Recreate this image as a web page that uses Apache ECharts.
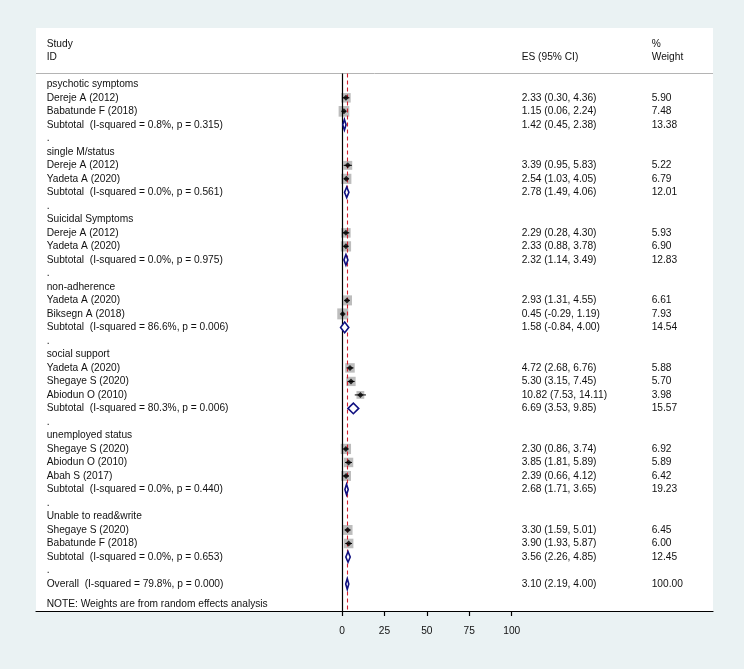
<!DOCTYPE html>
<html>
<head>
<meta charset="utf-8">
<script src="https://cdn.jsdelivr.net/npm/echarts@6/dist/echarts.min.js"></script>
<style>
html,body{margin:0;padding:0;background:#eaf2f3;}
#chart{width:744px;height:669px;}
</style>
</head>
<body>
<div id="chart"></div>
<script>
// ---------- data ----------
const xTicks = [0, 25, 50, 75, 100];

const groupNames = ["psychotic symptoms", "single M/status", "Suicidal Symptoms", "non-adherence",
  "social support", "unemployed status", "Unable to read&write"];

const studyNames = ["Dereje A (2012)", "Babatunde F (2018)",
  "Dereje A (2012)", "Yadeta A (2020)",
  "Dereje A (2012)", "Yadeta A (2020)",
  "Yadeta A (2020)", "Biksegn A (2018)",
  "Yadeta A (2020)", "Shegaye S (2020)", "Abiodun O (2010)",
  "Shegaye S (2020)", "Abiodun O (2010)", "Abah S (2017)",
  "Shegaye S (2020)", "Babatunde F (2018)"];
const studyGroup = [0, 0, 1, 1, 2, 2, 3, 3, 4, 4, 4, 5, 5, 5, 6, 6];
const studyES = [2.33, 1.15, 3.39, 2.54, 2.29, 2.33, 2.93, 0.45, 4.72, 5.30, 10.82, 2.30, 3.85, 2.39, 3.30, 3.90];
const studyLo = [0.30, 0.06, 0.95, 1.03, 0.28, 0.88, 1.31, -0.29, 2.68, 3.15, 7.53, 0.86, 1.81, 0.66, 1.59, 1.93];
const studyHi = [4.36, 2.24, 5.83, 4.05, 4.30, 3.78, 4.55, 1.19, 6.76, 7.45, 14.11, 3.74, 5.89, 4.12, 5.01, 5.87];
const studyWeight = [5.90, 7.48, 5.22, 6.79, 5.93, 6.90, 6.61, 7.93, 5.88, 5.70, 3.98, 6.92, 5.89, 6.42, 6.45, 6.00];

const subI2 = [0.8, 0.0, 0.0, 86.6, 80.3, 0.0, 0.0];
const subP = [0.315, 0.561, 0.975, 0.006, 0.006, 0.440, 0.653];
const subES = [1.42, 2.78, 2.32, 1.58, 6.69, 2.68, 3.56];
const subLo = [0.45, 1.49, 1.14, -0.84, 3.53, 1.71, 2.26];
const subHi = [2.38, 4.06, 3.49, 4.00, 9.85, 3.65, 4.85];
const subWeight = [13.38, 12.01, 12.83, 14.54, 15.57, 19.23, 12.45];

const overallES = [3.10];
const overallLo = [2.19];
const overallHi = [4.00];
const overallI2 = [79.8];
const overallP = [0.000];
const overallWeight = [100.00];

const headerLeft = ["Study", "ID"];
const headerES = ["", "ES (95% CI)"];
const headerWeight = ["%", "Weight"];
const noteText = "NOTE: Weights are from random effects analysis";

// ---------- layout helpers ----------
const fmtCI = (e, l, h) => `${e.toFixed(2)} (${l.toFixed(2)}, ${h.toFixed(2)})`;
const textRows = [];
const studyRow = [];
const subRow = [];
let row = 0;
textRows.push({ y: -3, left: headerLeft[0], es: headerES[0], w: headerWeight[0] });
textRows.push({ y: -2, left: headerLeft[1], es: headerES[1], w: headerWeight[1] });
groupNames.forEach((g, gi) => {
  textRows.push({ y: row, left: g }); row++;
  studyNames.forEach((s, i) => {
    if (studyGroup[i] !== gi) return;
    studyRow[i] = row;
    textRows.push({ y: row, left: s, es: fmtCI(studyES[i], studyLo[i], studyHi[i]), w: studyWeight[i].toFixed(2) });
    row++;
  });
  subRow[gi] = row;
  textRows.push({ y: row, left: `Subtotal  (I-squared = ${subI2[gi].toFixed(1)}%, p = ${subP[gi].toFixed(3)})`,
    es: fmtCI(subES[gi], subLo[gi], subHi[gi]), w: subWeight[gi].toFixed(2) });
  row++;
  textRows.push({ y: row, left: "." }); row++;
});
const overallRow = row;
textRows.push({ y: overallRow, left: `Overall  (I-squared = ${overallI2[0].toFixed(1)}%, p = ${overallP[0].toFixed(3)})`,
  es: fmtCI(overallES[0], overallLo[0], overallHi[0]), w: overallWeight[0].toFixed(2) });
const noteRow = overallRow + 1.47;
textRows.push({ y: noteRow, left: noteText });

const sepRow = -0.81;
const yMin = -4.17, yMax = 39.0;
const xMin = -180.3, xMax = 218.6;

const diamonds = subES.map((e, i) => [subLo[i], e, subHi[i], subRow[i]]);
diamonds.push([overallLo[0], overallES[0], overallHi[0], overallRow]);

const FONT = '"Liberation Sans", Arial, sans-serif';
const TXT = '#111';

const chart = echarts.init(document.getElementById('chart'), null, { renderer: 'canvas' });
chart.setOption({
  backgroundColor: '#eaf2f3',
  animation: false,
  grid: { left: 36, right: 31, top: 28, bottom: 58, show: true, backgroundColor: '#ffffff', borderWidth: 0 },
  xAxis: {
    type: 'value', min: xMin, max: xMax, position: 'bottom',
    axisLine: { show: true, onZero: false, lineStyle: { color: '#000', width: 1.2 } },
    axisTick: { show: true, customValues: xTicks, length: 5, lineStyle: { color: '#000', width: 1.2 } },
    axisLabel: { customValues: xTicks, margin: 15, color: '#111', fontSize: 10.2, fontFamily: FONT },
    splitLine: { show: false }
  },
  yAxis: { type: 'value', inverse: true, min: yMin, max: yMax, show: false },
  series: [
    {
      // reference lines
      type: 'line', data: [], z: 1, silent: true,
      markLine: {
        symbol: 'none', silent: true, animation: false, label: { show: false },
        data: [
          [{ coord: [xMin, sepRow], lineStyle: { color: '#b4b4b4', width: 1, type: 'solid' } }, { coord: [xMax, sepRow] }],
          [{ coord: [0, sepRow], lineStyle: { color: '#000', width: 1.2, type: 'solid' } }, { coord: [0, yMax] }],
          [{ coord: [overallES[0], sepRow], lineStyle: { color: '#d0202e', width: 1.1, type: [4, 3] } }, { coord: [overallES[0], yMax] }]
        ]
      }
    },
    {
      // text columns
      type: 'custom', z: 5, silent: true,
      data: textRows.map(r => [0, r.y]),
      renderItem: (params, api) => {
        const r = textRows[params.dataIndex];
        const y = api.coord([0, r.y])[1];
        const x0 = params.coordSys.x;
        const mk = (x, t) => ({ type: 'text', style: { x: x, y: y, text: t || '', fill: TXT,
          font: '10.2px ' + FONT, textAlign: 'left', textVerticalAlign: 'middle' } });
        return { type: 'group', children: [mk(x0 + 10.7, r.left), mk(x0 + 485.7, r.es), mk(x0 + 615.7, r.w)] };
      }
    },
    {
      // weight boxes
      type: 'scatter', z: 3, silent: true, symbol: 'rect',
      data: studyES.map((e, i) => [e, studyRow[i], studyWeight[i]]),
      symbolSize: v => 3.9 * Math.sqrt(v[2]),
      itemStyle: { color: '#bdbdbd', opacity: 1 }
    },
    {
      // confidence intervals
      type: 'custom', z: 4, silent: true,
      data: studyES.map((e, i) => [studyLo[i], studyHi[i], studyRow[i]]),
      renderItem: (params, api) => {
        const a = api.coord([api.value(0), api.value(2)]);
        const b = api.coord([api.value(1), api.value(2)]);
        return { type: 'line', shape: { x1: a[0], y1: a[1], x2: b[0], y2: b[1] }, style: { stroke: '#000', lineWidth: 1 } };
      }
    },
    {
      // point estimates
      type: 'scatter', z: 5, silent: true, symbol: 'diamond', symbolSize: 6,
      data: studyES.map((e, i) => [e, studyRow[i]]),
      itemStyle: { color: '#000' }
    },
    {
      // pooled diamonds
      type: 'custom', z: 6, silent: true,
      data: diamonds,
      renderItem: (params, api) => {
        const l = api.coord([api.value(0), api.value(3)]);
        const c = api.coord([api.value(1), api.value(3)]);
        const h = api.coord([api.value(2), api.value(3)]);
        const hh = 5.3;
        return { type: 'polygon', shape: { points: [[l[0], l[1]], [c[0], c[1] - hh], [h[0], h[1]], [c[0], c[1] + hh]] },
          style: { fill: '#ffffff', stroke: '#101080', lineWidth: 1.6 } };
      }
    }
  ]
});
</script>
</body>
</html>
